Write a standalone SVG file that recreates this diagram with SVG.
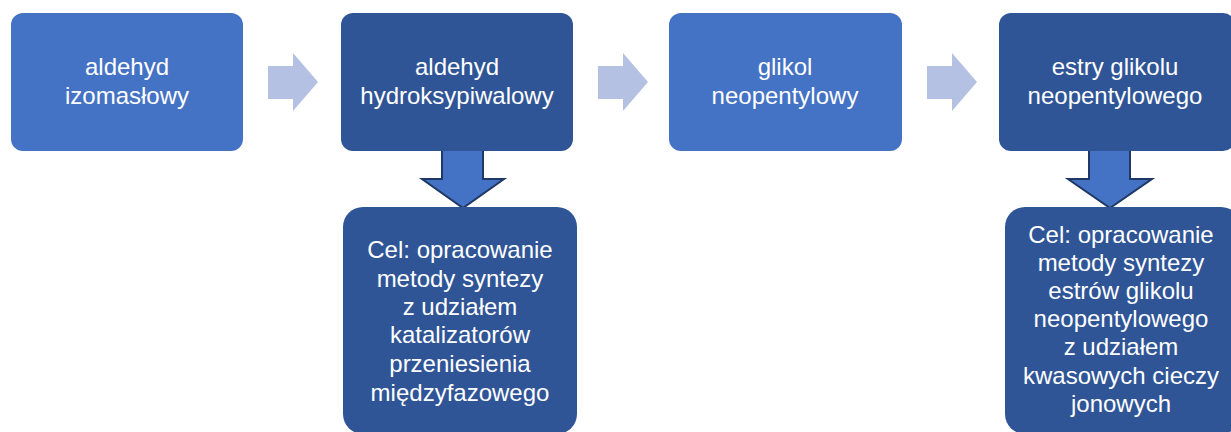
<svg xmlns="http://www.w3.org/2000/svg" width="1231" height="432" viewBox="0 0 1231 432">
<style>
.light{fill:#4472C4}
.dark{fill:#2F5597}
.t{font-family:"Liberation Sans",Arial,sans-serif;font-size:24px;fill:#FFFFFF;text-anchor:middle}
.ra{fill:#B4C1E2}
.da{fill:#4472C4;stroke:#1F3864;stroke-width:2;stroke-linejoin:miter}
</style>
<rect width="1231" height="432" fill="#FFFFFF"/>
<g id="connectors">
<polygon class="ra" points="268,66 293,66 293,53 318,82 293,111 293,99 268,99"/>
<polygon class="ra" points="598,66 623,66 623,53 648,82 623,111 623,99 598,99"/>
<polygon class="ra" points="927,66 952,66 952,53 977,82 952,111 952,99 927,99"/>
<polygon class="da" points="442,150 483,150 483,179 504,179 463,208 422,179 442,179"/>
<polygon class="da" points="1089,150 1130,150 1130,179 1152,179 1110,208 1068,179 1089,179"/>
</g>
<g id="n1">
<rect class="light" x="11" y="13" width="232" height="138" rx="12"/>
<text class="t" x="127" y="75">aldehyd</text>
<text class="t" x="127" y="104">izomasłowy</text>
</g>
<g id="n2">
<rect class="dark" x="341" y="13" width="232" height="138" rx="12"/>
<text class="t" x="457" y="75">aldehyd</text>
<text class="t" x="457" y="104">hydroksypiwalowy</text>
</g>
<g id="n3">
<rect class="light" x="669" y="13" width="233" height="138" rx="12"/>
<text class="t" x="785" y="75">glikol</text>
<text class="t" x="785" y="104">neopentylowy</text>
</g>
<g id="n4">
<rect class="dark" x="999" y="13" width="236" height="138" rx="12"/>
<text class="t" x="1115" y="75">estry glikolu</text>
<text class="t" x="1115" y="104">neopentylowego</text>
</g>
<g id="n5">
<rect class="dark" x="343" y="207" width="234" height="227" rx="20"/>
<text class="t" x="460" y="258">Cel: opracowanie</text>
<text class="t" x="460" y="287">metody syntezy</text>
<text class="t" x="460" y="315">z udziałem</text>
<text class="t" x="460" y="343">katalizatorów</text>
<text class="t" x="460" y="372">przeniesienia</text>
<text class="t" x="460" y="401">międzyfazowego</text>
</g>
<g id="n6">
<rect class="dark" x="1005" y="207" width="236" height="227" rx="20"/>
<text class="t" x="1121" y="243">Cel: opracowanie</text>
<text class="t" x="1121" y="271">metody syntezy</text>
<text class="t" x="1121" y="299">estrów glikolu</text>
<text class="t" x="1121" y="327">neopentylowego</text>
<text class="t" x="1121" y="355">z udziałem</text>
<text class="t" x="1121" y="384">kwasowych cieczy</text>
<text class="t" x="1121" y="412">jonowych</text>
</g>
</svg>
